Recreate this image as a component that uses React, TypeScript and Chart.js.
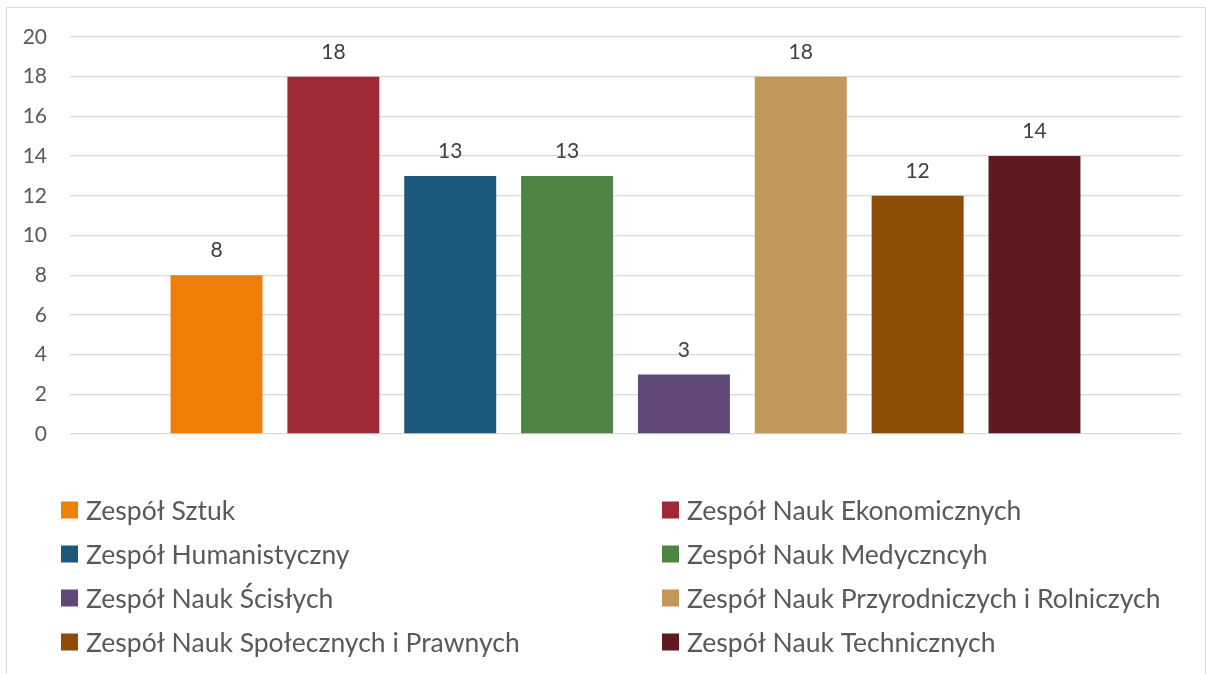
import React, { useEffect, useRef } from "react";
import { Chart, registerables } from "chart.js";

Chart.register(...registerables);

const categories = [""];
const seriesNames = [
  "Zespół Sztuk",
  "Zespół Nauk Ekonomicznych",
  "Zespół Humanistyczny",
  "Zespół Nauk Medyczncyh",
  "Zespół Nauk Ścisłych",
  "Zespół Nauk Przyrodniczych i Rolniczych",
  "Zespół Nauk Społecznych i Prawnych",
  "Zespół Nauk Technicznych",
];
const seriesValues = [8, 18, 13, 13, 3, 18, 12, 14];
const seriesColors = [
  "#F07F09",
  "#9F2936",
  "#1B587C",
  "#4E8542",
  "#604878",
  "#C19859",
  "#8E4C07",
  "#5E1921",
];
const yTicks = [0, 2, 4, 6, 8, 10, 12, 14, 16, 18, 20];

const FONT = "Lato, 'Open Sans', sans-serif";

const valueLabels = {
  id: "valueLabels",
  afterDatasetsDraw(chart: any) {
    const ctx = chart.ctx;
    ctx.save();
    ctx.font = `21px ${FONT}`;
    ctx.fillStyle = "#404040";
    ctx.textAlign = "center";
    ctx.textBaseline = "bottom";
    chart.data.datasets.forEach((ds: any, i: number) => {
      const meta = chart.getDatasetMeta(i);
      meta.data.forEach((el: any, j: number) => {
        ctx.fillText(String(ds.data[j]), el.x, el.y - 14);
      });
    });
    ctx.restore();
  },
};

const gridLegend = {
  id: "gridLegend",
  afterDraw(chart: any) {
    const ctx = chart.ctx;
    ctx.save();
    ctx.font = `26.5px ${FONT}`;
    ctx.textBaseline = "middle";
    ctx.textAlign = "left";
    const colX = [54, 655];
    const rowY0 = 502;
    const rowStep = 44;
    chart.data.datasets.forEach((ds: any, i: number) => {
      const col = i % 2;
      const row = Math.floor(i / 2);
      const x = colX[col];
      const y = rowY0 + row * rowStep;
      ctx.fillStyle = ds.backgroundColor;
      ctx.fillRect(x, y - 8.5, 17, 17);
      ctx.fillStyle = "#595959";
      ctx.fillText(ds.label, x + 25, y + 1);
    });
    ctx.restore();
  },
};

export default function App() {
  const ref = useRef<HTMLCanvasElement | null>(null);
  useEffect(() => {
    document.documentElement.style.overflow = "hidden";
    const chart = new Chart(ref.current as HTMLCanvasElement, {
      type: "bar",
      data: {
        labels: categories,
        datasets: seriesNames.map((name, i) => ({
          label: name,
          data: [seriesValues[i]],
          backgroundColor: seriesColors[i],
          borderWidth: 0,
          categoryPercentage: 0.8414,
          barPercentage: 0.787,
        })),
      },
      options: {
        animation: false,
        responsive: false,
        maintainAspectRatio: false,
        layout: { padding: { top: 29, right: 24, bottom: 240, left: 0 } },
        plugins: {
          legend: { display: false },
          tooltip: { enabled: false },
        },
        scales: {
          x: {
            display: false,
            grid: { display: false },
          },
          y: {
            min: 0,
            max: 20,
            afterBuildTicks: (scale: any) => {
              scale.ticks = yTicks.map((v) => ({ value: v }));
            },
            afterFit: (scale: any) => {
              scale.width = 63;
            },
            border: { display: false },
            grid: {
              color: "#D9D9D9",
              lineWidth: 1.3,
              drawTicks: true,
              tickLength: 23,
              tickColor: "rgba(0,0,0,0)",
            },
            ticks: {
              padding: 0,
              color: "#595959",
              font: { family: FONT, size: 21 },
            },
          },
        },
      },
      plugins: [valueLabels, gridLegend],
    });
    return () => chart.destroy();
  }, []);
  return (
    <div
      style={{
        position: "absolute",
        left: 6,
        top: 7,
        width: 1198,
        height: 666,
        border: "1px solid #D9D9D9",
        background: "#fff",
      }}
    >
      <canvas ref={ref} width={1198} height={666} style={{ display: "block" }} />
    </div>
  );
}
